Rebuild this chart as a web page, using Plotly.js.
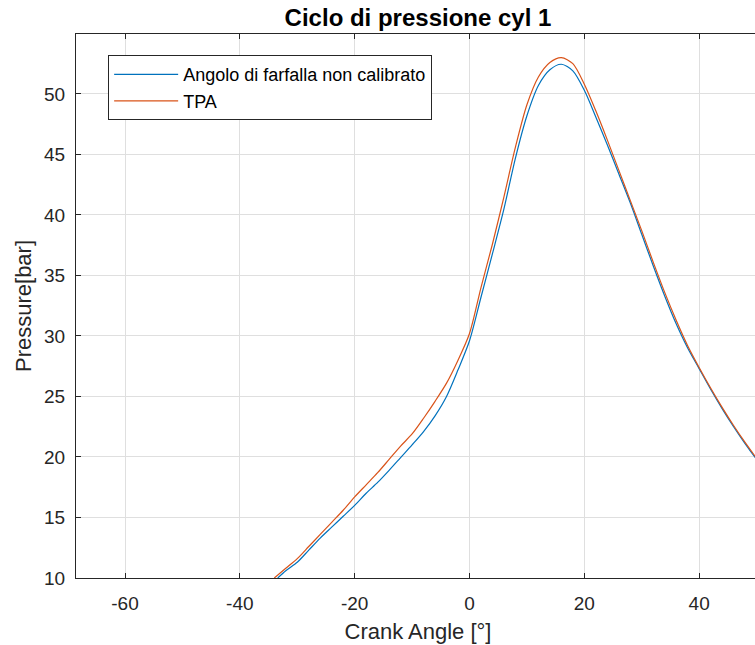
<!DOCTYPE html>
<html>
<head>
<meta charset="utf-8">
<script src="https://cdn.plot.ly/plotly-3.0.1.min.js"></script>
<style>
html,body{margin:0;padding:0;overflow:hidden;background:#fff;}
#chart{width:800px;height:645px;}
</style>
</head>
<body>
<div id="chart"></div>
<script>
// Series: Angolo di farfalla non calibrato (blue)
var blueX = [-33.4, -32, -30, -28, -26, -24, -22, -20, -18, -16, -14, -12, -10, -8, -6, -4, -2, 0, 2, 4, 6, 8, 10, 12, 14, 16, 18, 20, 22, 24, 26, 28, 30, 32, 34, 36, 38, 40, 42, 44, 46, 48, 50, 51];
var blueY = [10, 10.6, 11.3, 12.3, 13.3, 14.2, 15.1, 16.0, 17.0, 17.9, 18.9, 19.95, 21.0, 22.1, 23.4, 25.0, 27.2, 29.6, 33.2, 36.8, 40.5, 44.7, 48.2, 50.7, 52.0, 52.45, 51.9, 50.3, 48.1, 45.8, 43.4, 41.0, 38.4, 35.8, 33.3, 31.0, 29.0, 27.3, 25.6, 24.0, 22.5, 21.1, 19.8, 19.2];
// Series: TPA (orange)
var orangeX = [-34.0, -32, -30, -28, -26, -24, -22, -20, -18, -16, -14, -12, -10, -8, -6, -4, -2, 0, 2, 4, 6, 8, 10, 12, 14, 16, 18, 20, 22, 24, 26, 28, 30, 32, 34, 36, 38, 40, 42, 44, 46, 48, 50, 51];
var orangeY = [10, 10.8, 11.6, 12.6, 13.6, 14.6, 15.6, 16.7, 17.7, 18.7, 19.8, 20.9, 21.9, 23.2, 24.6, 26.1, 28.0, 30.2, 34.0, 37.6, 41.5, 45.6, 49.1, 51.4, 52.6, 53.0, 52.5, 50.8, 48.6, 46.2, 43.7, 41.2, 38.7, 36.1, 33.6, 31.3, 29.2, 27.4, 25.7, 24.1, 22.6, 21.2, 19.9, 19.3];
// Tick values
var xTicks = [-60, -40, -20, 0, 20, 40];
var yTicks = [10, 15, 20, 25, 30, 35, 40, 45, 50];

var traces = [
  {x: blueX, y: blueY, type: 'scatter', mode: 'lines', name: 'Angolo di farfalla non calibrato',
   line: {color: '#0072BD', width: 1.2, shape: 'spline', smoothing: 0.8}},
  {x: orangeX, y: orangeY, type: 'scatter', mode: 'lines', name: 'TPA',
   line: {color: '#D95319', width: 1.2, shape: 'spline', smoothing: 0.8}}
];

var fontFam = 'Arial, "Liberation Sans", Helvetica, sans-serif';
var layout = {
  width: 800, height: 645,
  margin: {l: 76, r: 40, t: 34, b: 67},
  paper_bgcolor: '#fff', plot_bgcolor: '#fff',
  font: {family: fontFam, color: '#262626', size: 19},
  title: {text: '<b>Ciclo di pressione cyl 1</b>', x: 0.5, xref: 'paper', y: 0.972, yref: 'container', yanchor: 'middle',
          font: {family: fontFam, size: 24, color: '#000'}},
  xaxis: {
    range: [-68.54, 50.6], tickvals: xTicks, ticktext: xTicks.map(String),
    ticks: 'inside', ticklen: 5, tickcolor: '#262626', tickwidth: 1,
    showline: true, linecolor: '#262626', linewidth: 1, mirror: 'allticks',
    showgrid: true, gridcolor: '#dfdfdf', gridwidth: 1, zeroline: false,
    tickfont: {size: 19, color: '#262626'}, ticklabelstandoff: 8,
    title: {text: 'Crank Angle [°]', font: {size: 22, color: '#262626'}, standoff: 10}
  },
  yaxis: {
    range: [10, 54.95], tickvals: yTicks, ticktext: yTicks.map(String),
    ticks: 'inside', ticklen: 5, tickcolor: '#262626', tickwidth: 1,
    showline: true, linecolor: '#262626', linewidth: 1, mirror: 'allticks',
    showgrid: true, gridcolor: '#dfdfdf', gridwidth: 1, zeroline: false,
    tickfont: {size: 19, color: '#262626'}, ticklabelstandoff: 6,
    title: {text: 'Pressure[bar]', font: {size: 22, color: '#262626'}, standoff: 6}
  },
  legend: {
    x: 0.047, y: 0.961, xanchor: 'left', yanchor: 'top',
    bgcolor: '#fff', bordercolor: '#262626', borderwidth: 1,
    font: {size: 18, color: '#000'}, tracegroupgap: 0, itemwidth: 64
  },
  showlegend: true
};

Plotly.newPlot('chart', traces, layout, {displayModeBar: false, staticPlot: true});
</script>
</body>
</html>
